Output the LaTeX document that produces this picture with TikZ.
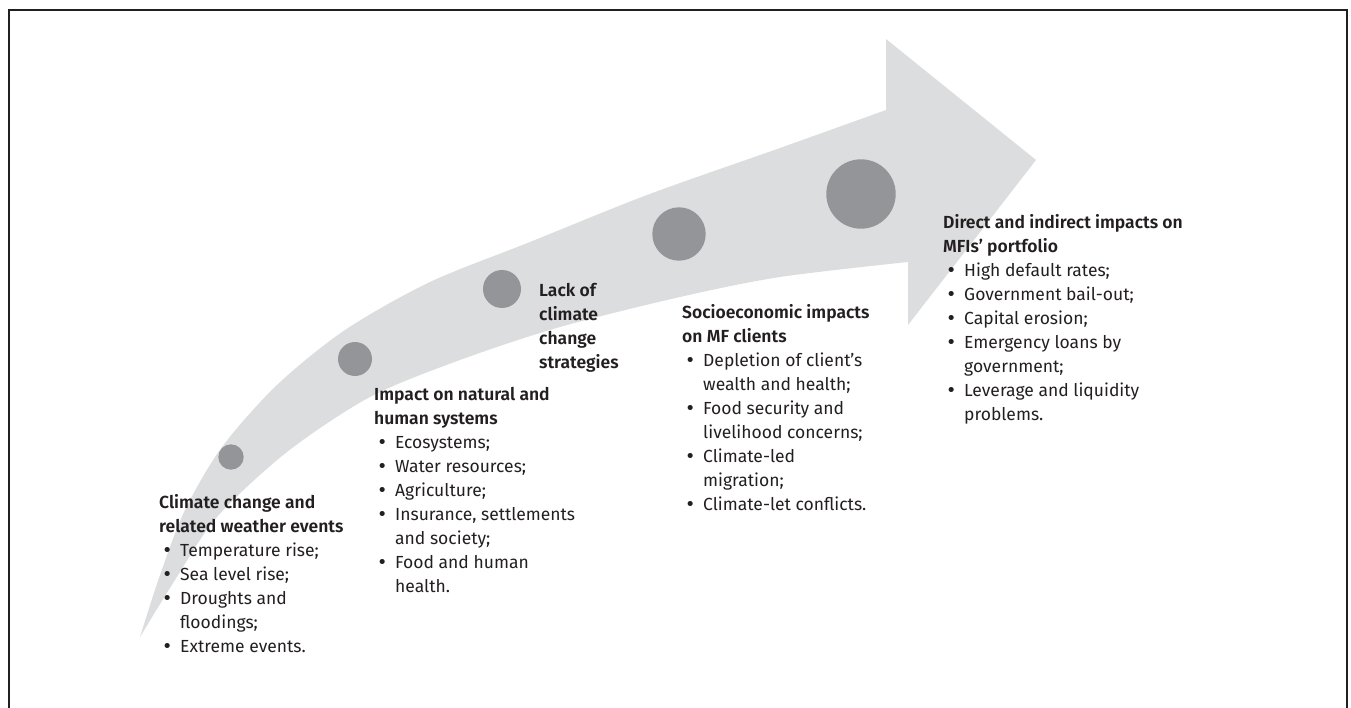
\documentclass[tikz,border=0pt]{standalone}
\usepackage{fontspec}
\setmainfont{Fira Sans}[BoldFont={Fira Sans SemiBold}]
\newfontfamily\bulletfont{DejaVu Sans}
\usepackage{xcolor}
\definecolor{bandGray}{HTML}{DCDDDE}
\definecolor{dotGray}{HTML}{939598}
\definecolor{textDark}{HTML}{231F20}
\usetikzlibrary{positioning}
\tikzset{
    dot/.style={
        circle,
        fill=dotGray,
        inner sep=0pt
    },
    stage/.style={
        anchor=north west,
        align=left,
        inner sep=0pt,
        text=textDark,
        font=\fontsize{17.5}{24}\selectfont
    },
    band/.style={
        fill=bandGray,
        draw=none
    },
    frame/.style={
        draw=textDark,
        line width=2pt
    }
}
\newcommand{\bul}{\makebox[21pt][l]{\hspace{3pt}{\bulletfont •}}}
\newcommand{\cnt}{\hspace*{21pt}}

\begin{document}
\begin{tikzpicture}[x=1pt, y=-1pt]
    \useasboundingbox (0,0) rectangle (1351,708);

    % Curved arrow
    \fill[band] plot[smooth] coordinates {(140,637) (160,575) (185,510) (222,447) (277,385) (345,330) (430,282) (530,242) (647,195) (780,148) (886,110)}
        -- (886,39) -- (1036,160) -- (908,325) -- (908,262)
        -- plot[smooth] coordinates {(908,262) (780,277) (680,297) (560,327) (460,360) (370,397) (287,452) (217,517) (175,580) (140,637)}
        -- cycle;

    % Frame
    \draw[frame] (9,712) -- (9,10) -- (1347,10) -- (1347,712);

    % Stage dots
    \node[dot, minimum size=25.4pt] (d1) at (231,457) {};
    \node[dot, minimum size=34pt] (d2) at (355,359) {};
    \node[dot, minimum size=38pt] (d3) at (502,289) {};
    \node[dot, minimum size=53.4pt] (d4) at (679,234) {};
    \node[dot, minimum size=69.4pt] (d5) at (861,194) {};

    % Stage texts
    \node[stage] (climate) at (159,494) {\textbf{Climate change and}\\\textbf{related weather events}\\
        \bul Temperature rise;\\\bul Sea level rise;\\\bul Droughts and\\\cnt floodings;\\\bul Extreme events.};
    \node[stage] (impact) at (374,387) {\textbf{Impact on natural and}\\\textbf{human systems}\\
        \bul Ecosystems;\\\bul Water resources;\\\bul Agriculture;\\\bul Insurance, settlements\\\cnt and society;\\
        \bul Food and human\\\cnt health.};
    \node[stage] (lack) at (539,283) {\textbf{Lack of}\\\textbf{climate}\\\textbf{change}\\\textbf{strategies}};
    \node[stage] (socio) at (682,304) {\textbf{Socioeconomic impacts}\\\textbf{on MF clients}\\
        \bul Depletion of client’s\\\cnt wealth and health;\\\bul Food security and\\\cnt livelihood concerns;\\
        \bul Climate-led\\\cnt migration;\\\bul Climate-let conflicts.};
    \node[stage] (direct) at (943,214) {\textbf{Direct and indirect impacts on}\\\textbf{MFIs’ portfolio}\\
        \bul High default rates;\\\bul Government bail-out;\\\bul Capital erosion;\\\bul Emergency loans by\\\cnt government;\\
        \bul Leverage and liquidity\\\cnt problems.};
\end{tikzpicture}
\end{document}
